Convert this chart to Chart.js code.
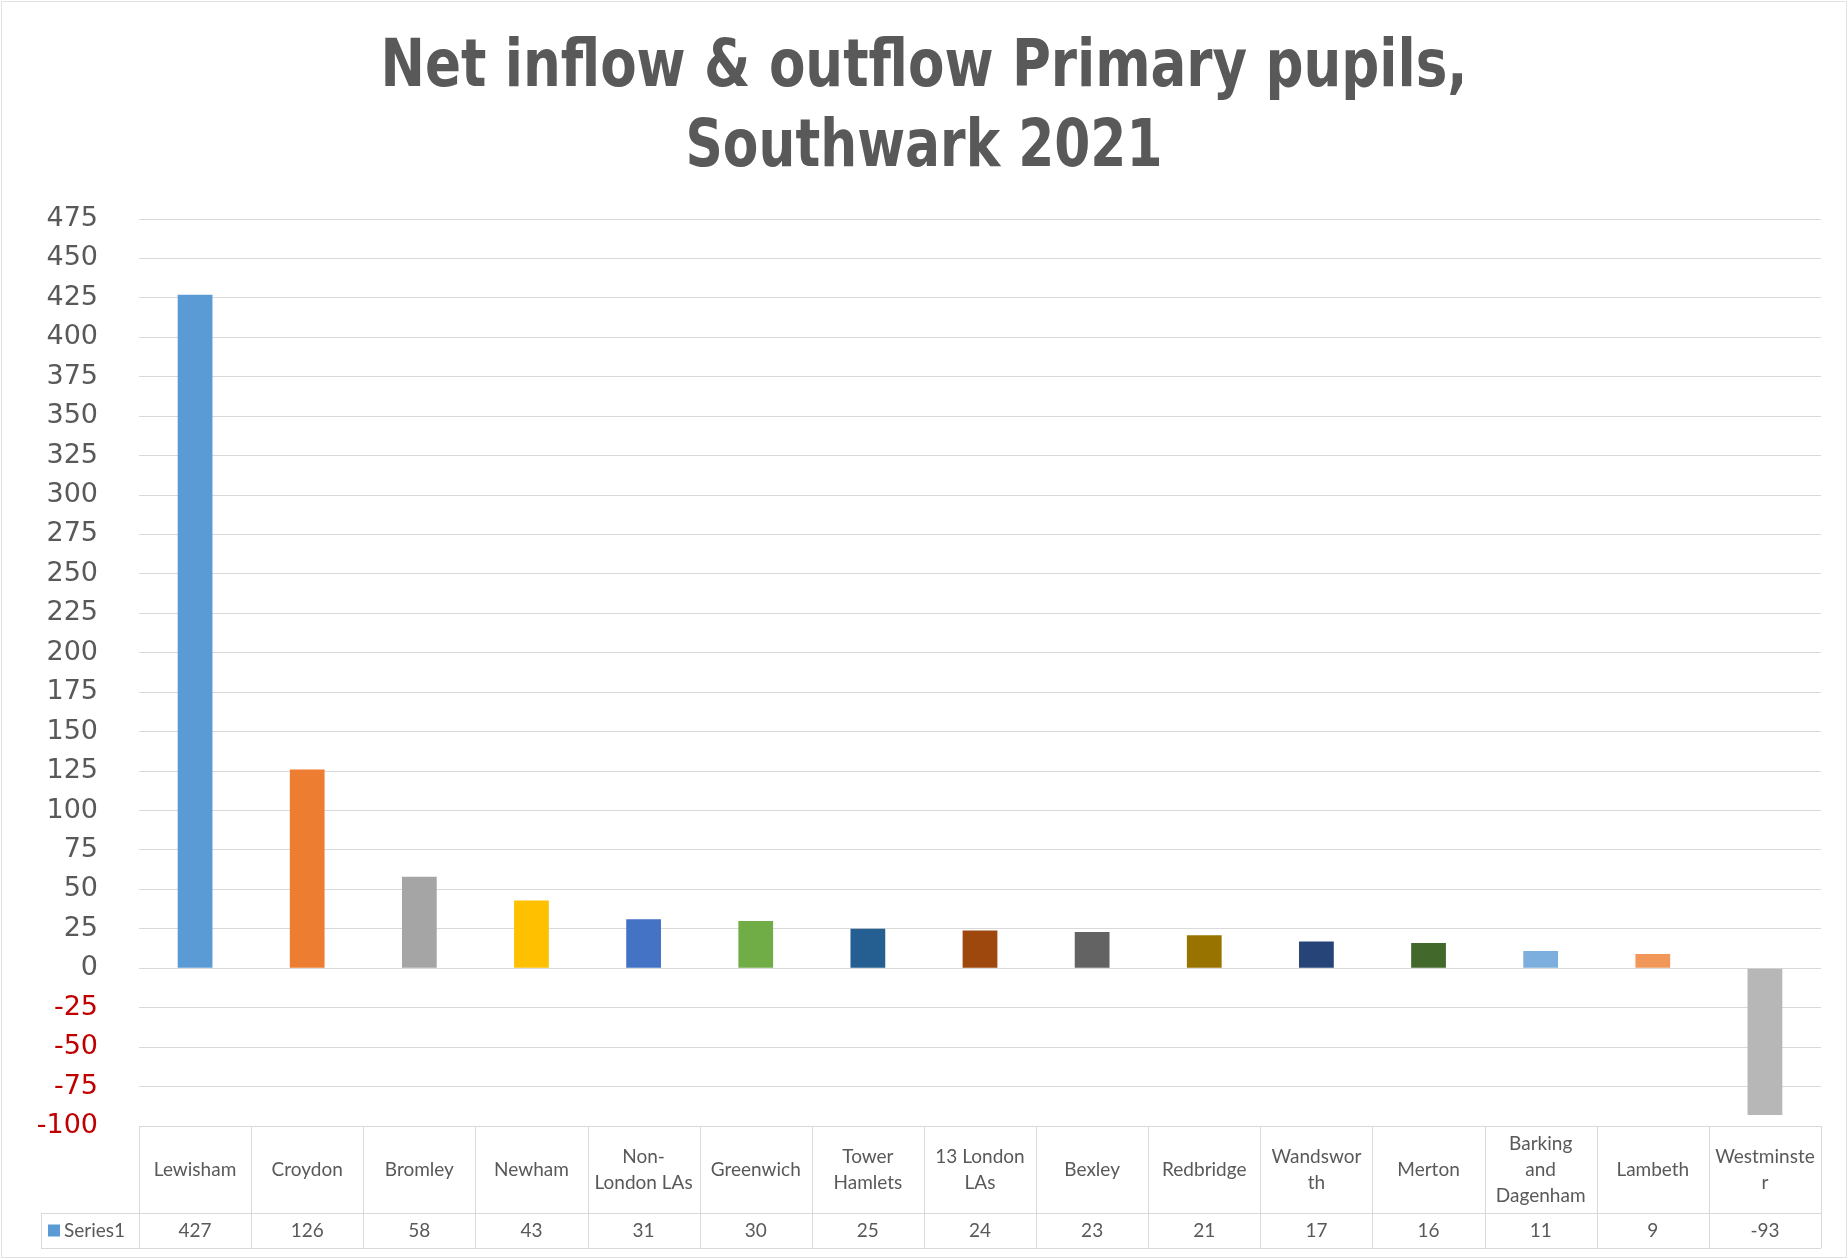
<!DOCTYPE html>
<html>
<head>
    <title>Net inflow & outflow Primary pupils, Southwark 2021</title>
    <script src="https://cdn.jsdelivr.net/npm/chart.js"></script>
    <style>
        body { margin: 0; background: #fff; }
    </style>
</head>
<body>
    <canvas id="pupilChart" width="1848" height="1259"></canvas>
    <script>
        const categories = [
            ['Lewisham'], ['Croydon'], ['Bromley'], ['Newham'], ['Non-', 'London LAs'],
            ['Greenwich'], ['Tower', 'Hamlets'], ['13 London', 'LAs'], ['Bexley'], ['Redbridge'],
            ['Wandswor', 'th'], ['Merton'], ['Barking', 'and', 'Dagenham'], ['Lambeth'], ['Westminste', 'r']
        ];
        const netPupils = [427, 126, 58, 43, 31, 30, 25, 24, 23, 21, 17, 16, 11, 9, -93];
        const barColours = [
            '#5B9BD5', '#ED7D31', '#A5A5A5', '#FFC000', '#4472C4',
            '#70AD47', '#255E91', '#9E480E', '#636363', '#997300',
            '#264478', '#43682B', '#7CAFDD', '#F1975A', '#B7B7B7'
        ];
        const titleLines = ['Net inflow & outflow Primary pupils,', 'Southwark 2021'];
        const seriesName = 'Series1';
        const yMin = -100, yMax = 475, yStep = 25;

        const grey = '#595959';
        const lineGrey = '#d9d9d9';

        // two-line title, squeezed to the width of the original
        const titlePlugin = {
            id: 'bigTitle',
            afterDraw(chart) {
                const ctx = chart.ctx;
                const cx = chart.width / 2;
                const rows = [
                    { text: titleLines[0], y: 86, w: 1087 },
                    { text: titleLines[1], y: 166, w: 477 }
                ];
                ctx.save();
                ctx.fillStyle = grey;
                ctx.font = "bold 66px 'Liberation Sans Narrow', 'DejaVu Sans Condensed', sans-serif";
                ctx.textAlign = 'center';
                ctx.textBaseline = 'alphabetic';
                rows.forEach(r => {
                    const m = ctx.measureText(r.text).width;
                    ctx.save();
                    ctx.translate(cx, r.y);
                    ctx.scale(r.w / m, 1);
                    ctx.fillText(r.text, 0, 0);
                    ctx.restore();
                });
                // faint outer frame
                ctx.strokeStyle = '#e3e3e3';
                ctx.lineWidth = 1;
                ctx.strokeRect(1.5, 1.5, chart.width - 3, chart.height - 3);
                ctx.restore();
            }
        };

        // the data table under the plot
        const tablePlugin = {
            id: 'dataTable',
            afterDraw(chart) {
                const ctx = chart.ctx;
                const x = chart.scales.x;
                const area = chart.chartArea;
                const top = area.bottom;
                const mid = top + 87;
                const bottom = mid + 35;
                const keyLeft = 41;
                const half = (x.getPixelForValue(1) - x.getPixelForValue(0)) / 2;
                const left = x.getPixelForValue(0) - half;
                const right = x.getPixelForValue(categories.length - 1) + half;

                ctx.save();
                ctx.strokeStyle = lineGrey;
                ctx.lineWidth = 1;
                ctx.beginPath();
                ctx.moveTo(left, top + 0.5); ctx.lineTo(right, top + 0.5);
                ctx.moveTo(keyLeft, mid + 0.5); ctx.lineTo(right, mid + 0.5);
                ctx.moveTo(keyLeft, bottom + 0.5); ctx.lineTo(right, bottom + 0.5);
                ctx.moveTo(keyLeft + 0.5, mid); ctx.lineTo(keyLeft + 0.5, bottom);
                for (let i = 0; i <= categories.length; i++) {
                    const px = Math.round(left + i * half * 2) + 0.5;
                    ctx.moveTo(px, top); ctx.lineTo(px, bottom);
                }
                ctx.stroke();

                ctx.fillStyle = grey;
                ctx.textAlign = 'center';
                ctx.textBaseline = 'middle';
                ctx.font = "19px Lato, 'Open Sans', sans-serif";
                const lineH = 26;
                categories.forEach((lines, i) => {
                    const cx = x.getPixelForValue(i);
                    const y0 = (top + mid) / 2 - (lines.length - 1) * lineH / 2;
                    lines.forEach((t, j) => ctx.fillText(t, cx, y0 + j * lineH));
                    ctx.fillText(String(netPupils[i]), cx, (mid + bottom) / 2);
                });

                // legend key cell
                ctx.fillStyle = barColours[0];
                ctx.fillRect(48, (mid + bottom) / 2 - 6, 12, 12);
                ctx.fillStyle = grey;
                ctx.textAlign = 'left';
                ctx.fillText(seriesName, 64, (mid + bottom) / 2);
                ctx.restore();
            }
        };

        const ctx = document.getElementById('pupilChart').getContext('2d');
        const myChart = new Chart(ctx, {
            type: 'bar',
            data: {
                labels: categories.map(c => c.join(' ')),
                datasets: [{
                    label: seriesName,
                    data: netPupils,
                    backgroundColor: barColours,
                    categoryPercentage: 1,
                    barPercentage: 0.31
                }]
            },
            options: {
                responsive: false,
                animation: false,
                devicePixelRatio: 1,
                layout: { padding: { top: 219, bottom: 133, left: 0, right: 27 } },
                plugins: {
                    legend: { display: false },
                    title: { display: false },
                    tooltip: { enabled: false }
                },
                scales: {
                    x: { display: false },
                    y: {
                        min: yMin,
                        max: yMax,
                        ticks: {
                            stepSize: yStep,
                            padding: 41,
                            color: c => c.tick.value < 0 ? '#C00000' : grey,
                            font: { family: "'DejaVu Sans', sans-serif", size: 27 }
                        },
                        grid: { color: lineGrey, drawTicks: false },
                        border: { display: false },
                        afterFit: s => { s.width = 139; }
                    }
                }
            },
            plugins: [titlePlugin, tablePlugin]
        });
    </script>
</body>
</html>
